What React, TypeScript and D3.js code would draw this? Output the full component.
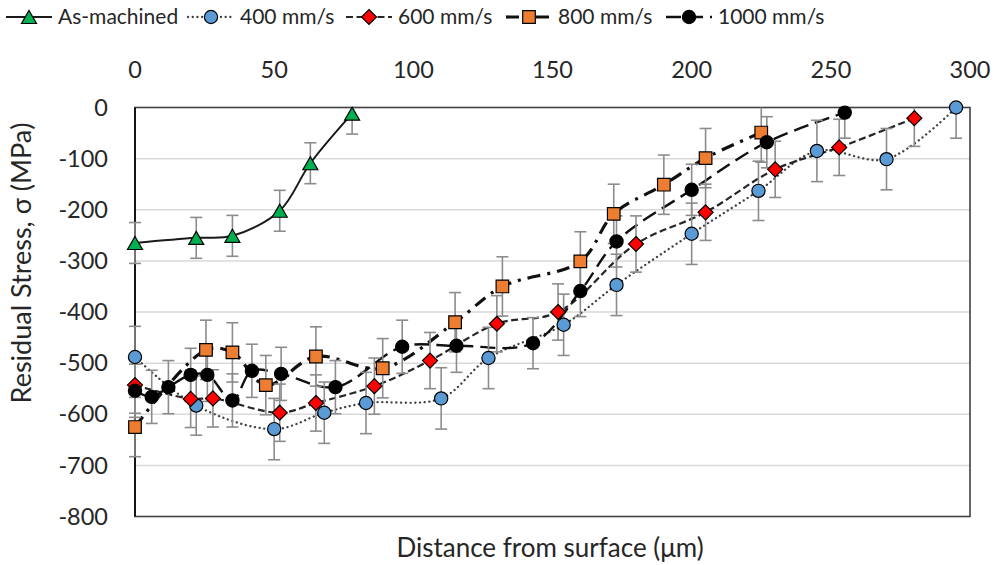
import React, { useEffect } from "react";
import * as d3 from "d3";

// Axis ticks
const distanceTicks = [0, 50, 100, 150, 200, 250, 300];
const stressTicks = [0, -100, -200, -300, -400, -500, -600, -700, -800];

// As-machined
const asMachinedX = [0, 22, 35, 52, 63, 78];
const asMachinedY = [-265, -255, -251, -202, -109, -12];
const asMachinedErr = [40, 40, 40, 40, 40, 40];

// 400 mm/s
const v400X = [0, 22, 50, 68, 83, 110, 127, 154, 173, 200, 224, 245, 270, 295];
const v400Y = [-488, -583, -629, -597, -578, -569, -490, -425, -347, -247, -163, -85, -101, 0];
const v400Err = [60, 58, 60, 60, 60, 60, 60, 60, 60, 60, 58, 60, 60, 60];

// 600 mm/s
const v600X = [0, 20, 28, 52, 65, 86, 106, 130, 152, 180, 205, 230, 253, 280];
const v600Y = [-543, -570, -569, -597, -578, -545, -495, -423, -400, -267, -205, -121, -78, -21];
const v600Err = [55, 56, 56, 56, 55, 55, 55, 55, 55, 55, 55, 55, 55, 55];

// 800 mm/s
const v800X = [0, 25.5, 35, 47, 65, 89, 115, 132, 160, 172, 190, 205, 225];
const v800Y = [-625, -474, -479, -543, -487, -510, -420, -350, -301, -208, -151, -99, -49];
const v800Err = [58, 58, 58, 58, 58, 58, 58, 58, 58, 58, 58, 58, 58];

// 1000 mm/s
const v1000X = [0, 6, 12, 20, 26, 35, 42, 52.5, 72, 96, 115.5, 143, 160, 173, 200, 227, 255];
const v1000Y = [-554, -566, -547, -523, -523, -573, -515, -521, -547, -468, -466, -461, -359, -262, -161, -68, -10];
const v1000Err = [52, 52, 52, 52, 52, 52, 52, 52, 52, 52, 52, 50, 50, 50, 50, 50, 50];

const seriesNames = ["As-machined", "400 mm/s", "600 mm/s", "800 mm/s", "1000 mm/s"];

type Marker = "triangle" | "circle" | "diamond" | "square";

interface Series {
  name: string;
  x: number[];
  y: number[];
  err: number[];
  marker: Marker;
  fill: string;
  dash: string;
  width: number;
  cap: "butt" | "round";
  stroke: string;
}

const series: Series[] = [
  { name: seriesNames[0], x: asMachinedX, y: asMachinedY, err: asMachinedErr, marker: "triangle", fill: "#00b050", dash: "none", width: 2, cap: "butt", stroke: "#1a1a1a" },
  { name: seriesNames[1], x: v400X, y: v400Y, err: v400Err, marker: "circle", fill: "#5b9bd5", dash: "0.1,4.6", width: 2.3, cap: "round", stroke: "#404040" },
  { name: seriesNames[2], x: v600X, y: v600Y, err: v600Err, marker: "diamond", fill: "#ff0000", dash: "7,3.5", width: 2.2, cap: "butt", stroke: "#262626" },
  { name: seriesNames[3], x: v800X, y: v800Y, err: v800Err, marker: "square", fill: "#ed7d31", dash: "13,7,3,7", width: 3.2, cap: "butt", stroke: "#111" },
  { name: seriesNames[4], x: v1000X, y: v1000Y, err: v1000Err, marker: "circle", fill: "#000000", dash: "15,7", width: 2.4, cap: "butt", stroke: "#111" },
];

const W = 1007;
const H = 565;
const plot = { left: 135, right: 970, top: 107.5, bottom: 516.5 };
const font = "Lato, 'Open Sans', sans-serif";
const textColor = "#262626";

function markerPath(m: Marker): string {
  switch (m) {
    case "triangle":
      return "M0,-6.5L7.5,6.5L-7.5,6.5Z";
    case "diamond":
      return "M0,-7.5L7.5,0L0,7.5L-7.5,0Z";
    case "square":
      return "M-6.3,-6.3H6.3V6.3H-6.3Z";
    default:
      return d3.symbol(d3.symbolCircle, Math.PI * 6.6 * 6.6)() as string;
  }
}

export default function App() {
  useEffect(() => {
    document.body.style.margin = "0";
  }, []);

  const x = d3.scaleLinear().domain([0, 300]).range([plot.left, plot.right]);
  const y = d3.scaleLinear().domain([-800, 0]).range([plot.bottom, plot.top]);

  const line = d3
    .line<[number, number]>()
    .x((d) => x(d[0]))
    .y((d) => y(d[1]))
    .curve(d3.curveCatmullRom.alpha(0.5));

  const legendX = [6, 188, 346, 506, 666];
  const legendLen = 46;
  const legendY = 17;

  return (
    <svg width={W} height={H} style={{ display: "block", background: "#fff" }}>
      <defs>
        <clipPath id="plot-clip">
          <rect x={plot.left} y={plot.top - 10} width={plot.right - plot.left + 10} height={plot.bottom - plot.top + 10} />
        </clipPath>
      </defs>

      {/* horizontal gridlines */}
      {stressTicks
        .filter((t) => t !== 0 && t !== -800)
        .map((t) => (
          <line key={t} x1={plot.left} x2={plot.right} y1={y(t)} y2={y(t)} stroke="#d9d9d9" strokeWidth={1.5} />
        ))}

      {/* frame */}
      <rect
        x={plot.left}
        y={plot.top}
        width={plot.right - plot.left}
        height={plot.bottom - plot.top}
        fill="none"
        stroke="#404040"
        strokeWidth={1.6}
      />
      <line x1={plot.left} x2={plot.left} y1={plot.top} y2={plot.bottom} stroke="#000" strokeWidth={1.6} />

      {/* y tick labels */}
      {stressTicks.map((t) => (
        <text key={t} x={108} y={y(t)} dy="0.35em" textAnchor="end" fontFamily={font} fontSize={23.5} fill={textColor}>
          {t}
        </text>
      ))}

      {/* top distance labels */}
      {distanceTicks.map((t) => (
        <text key={t} x={x(t)} y={70} dy="0.35em" textAnchor="middle" fontFamily={font} fontSize={23.5} fill={textColor}>
          {t}
        </text>
      ))}

      {/* axis titles */}
      <text x={550} y={548} dy="0.35em" textAnchor="middle" fontFamily={font} fontSize={26} fill={textColor}>
        Distance from surface (μm)
      </text>
      <text
        transform={`translate(22,263) rotate(-90)`}
        dy="0.35em"
        textAnchor="middle"
        fontFamily={font}
        fontSize={27}
        fill={textColor}
      >
        Residual Stress, σ (MPa)
      </text>

      {/* series lines */}
      <g clipPath="url(#plot-clip)">
        {series.map((s) => (
          <path
            key={s.name}
            d={line(s.x.map((v, i) => [v, s.y[i]] as [number, number])) as string}
            fill="none"
            stroke={s.stroke}
            strokeWidth={s.width}
            strokeDasharray={s.dash}
            strokeLinecap={s.cap}
          />
        ))}
      </g>

      {/* error bars */}
      {series.map((s) => (
        <g key={s.name} stroke="#8c8c8c" strokeWidth={1.6}>
          {s.x.map((v, i) => {
            const cx = x(v);
            const hi = s.y[i] + s.err[i];
            const yt = Math.max(y(hi), plot.top);
            const yb = y(s.y[i] - s.err[i]);
            return (
              <g key={i}>
                <line x1={cx} x2={cx} y1={yt} y2={yb} />
                {hi <= 0 && <line x1={cx - 6} x2={cx + 6} y1={yt} y2={yt} />}
                <line x1={cx - 6} x2={cx + 6} y1={yb} y2={yb} />
              </g>
            );
          })}
        </g>
      ))}

      {/* markers */}
      {series.map((s) => (
        <g key={s.name}>
          {s.x.map((v, i) => (
            <path
              key={i}
              d={markerPath(s.marker)}
              transform={`translate(${x(v)},${y(s.y[i])})`}
              fill={s.fill}
              stroke="#000"
              strokeWidth={1.2}
            />
          ))}
        </g>
      ))}

      {/* legend */}
      {series.map((s, i) => (
        <g key={s.name} transform={`translate(${legendX[i]},${legendY})`}>
          <line
            x1={0}
            x2={legendLen}
            y1={0}
            y2={0}
            stroke={s.stroke}
            strokeWidth={s.width}
            strokeDasharray={s.dash}
            strokeLinecap={s.cap}
          />
          <path d={markerPath(s.marker)} transform={`translate(${legendLen / 2},0)`} fill={s.fill} stroke="#000" strokeWidth={1.2} />
          <text x={legendLen + 6} y={0} dy="0.35em" fontFamily={font} fontSize={21} fill={textColor}>
            {s.name}
          </text>
        </g>
      ))}
    </svg>
  );
}
